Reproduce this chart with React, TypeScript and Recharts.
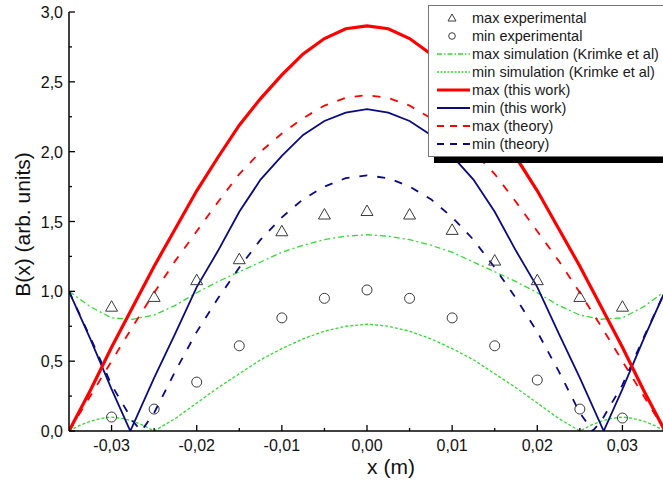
import { ComposedChart, Line, Scatter, XAxis, YAxis } from 'recharts';

// x grid (m) used by the smooth curves
const xGrid = [
  -0.035, -0.0325, -0.03, -0.0275, -0.025, -0.0225, -0.02, -0.0175, -0.015, -0.0125, -0.01, -0.0075, -0.005, -0.0025, 0,
  0.0025, 0.005, 0.0075, 0.01, 0.0125, 0.015, 0.0175, 0.02, 0.0225, 0.025, 0.0275, 0.03, 0.0325, 0.035,
];

const maxThisWork = [
  0, 0.29, 0.6, 0.89, 1.18, 1.45, 1.72, 1.96, 2.19, 2.38, 2.55, 2.7, 2.81, 2.88, 2.9,
  2.88, 2.81, 2.7, 2.55, 2.38, 2.19, 1.96, 1.72, 1.45, 1.18, 0.89, 0.6, 0.29, 0,
];

const maxTheory = [
  0, 0.25, 0.5, 0.75, 0.99, 1.22, 1.43, 1.64, 1.84, 2.0, 2.13, 2.24, 2.33, 2.385, 2.405,
  2.385, 2.33, 2.24, 2.13, 2.0, 1.84, 1.64, 1.43, 1.22, 0.99, 0.75, 0.5, 0.25, 0,
];

const maxSim = [
  1.0, 0.89, 0.81, 0.8, 0.83, 0.9, 0.99, 1.07, 1.14, 1.21, 1.28, 1.33, 1.37, 1.395, 1.405,
  1.395, 1.37, 1.33, 1.28, 1.21, 1.14, 1.07, 0.99, 0.9, 0.83, 0.8, 0.81, 0.89, 1.0,
];

const minSimX = [
  -0.035, -0.03375, -0.0325, -0.03125, -0.03, -0.02875, -0.0275, -0.02625, -0.025,
  -0.0225, -0.02, -0.0175, -0.015, -0.0125, -0.01, -0.0075, -0.005, -0.0025, 0,
  0.0025, 0.005, 0.0075, 0.01, 0.0125, 0.015, 0.0175, 0.02, 0.0225,
  0.025, 0.02625, 0.0275, 0.02875, 0.03, 0.03125, 0.0325, 0.03375, 0.035,
];
const minSim = [
  0, 0.04, 0.07, 0.09, 0.1, 0.09, 0.07, 0.04, 0,
  0.09, 0.2, 0.31, 0.41, 0.51, 0.59, 0.66, 0.715, 0.75, 0.765,
  0.75, 0.715, 0.66, 0.59, 0.51, 0.41, 0.31, 0.2, 0.09,
  0, 0.04, 0.07, 0.09, 0.1, 0.09, 0.07, 0.04, 0,
];

const minThisWorkX = [
  -0.035, -0.0325, -0.03, -0.0278, -0.025, -0.0225, -0.02, -0.0175, -0.015, -0.0125, -0.01, -0.0075, -0.005, -0.0025, 0,
  0.0025, 0.005, 0.0075, 0.01, 0.0125, 0.015, 0.0175, 0.02, 0.0225, 0.025, 0.0278, 0.03, 0.0325, 0.035,
];
const minThisWork = [
  1.0, 0.66, 0.3, 0, 0.38, 0.7, 1.03, 1.29, 1.57, 1.8, 1.97, 2.12, 2.22, 2.28, 2.305,
  2.28, 2.22, 2.12, 1.97, 1.8, 1.57, 1.29, 1.03, 0.7, 0.38, 0, 0.3, 0.66, 1.0,
];

const minTheoryX = [
  -0.035, -0.0325, -0.03, -0.0275, -0.0265, -0.025, -0.0225, -0.02, -0.0175, -0.015, -0.0125, -0.01, -0.0075, -0.005, -0.0025, 0,
  0.0025, 0.005, 0.0075, 0.01, 0.0125, 0.015, 0.0175, 0.02, 0.0225, 0.025, 0.0265, 0.0275, 0.03, 0.0325, 0.035,
];
const minTheory = [
  1.0, 0.67, 0.33, 0.07, 0, 0.13, 0.43, 0.71, 0.95, 1.17, 1.37, 1.53, 1.66, 1.75, 1.81, 1.83,
  1.81, 1.75, 1.66, 1.53, 1.37, 1.17, 0.95, 0.71, 0.43, 0.13, 0, 0.07, 0.33, 0.67, 1.0,
];

// experimental points
const expX = [-0.03, -0.025, -0.02, -0.015, -0.01, -0.005, 0, 0.005, 0.01, 0.015, 0.02, 0.025, 0.03];
const maxExp = [0.89, 0.96, 1.08, 1.23, 1.43, 1.55, 1.575, 1.55, 1.44, 1.22, 1.08, 0.96, 0.89];
const minExp = [0.1, 0.157, 0.35, 0.61, 0.81, 0.95, 1.01, 0.95, 0.81, 0.61, 0.365, 0.157, 0.093];

// axis ticks
const xMajorTicks = [-0.03, -0.02, -0.01, 0, 0.01, 0.02, 0.03];
const xMinorTicks = [-0.025, -0.015, -0.005, 0.005, 0.015, 0.025];
const yMajorTicks = [0, 0.5, 1, 1.5, 2, 2.5, 3];
const yMinorTicks = [0.25, 0.75, 1.25, 1.75, 2.25, 2.75];

const FONT = '"Liberation Sans", Arial, sans-serif';
const RED = '#ff0000';
const NAVY = '#0a0a82';
const GREEN = '#2fdc2f';
const MARK = '#3a3a3a';

const toPoints = (xs: number[], ys: number[]) => xs.map((x, i) => ({ x, y: ys[i] }));

const fmtX = (v: number) => (Math.abs(v) < 1e-9 ? 0 : v).toFixed(2).replace('.', ',');
const fmtY = (v: number) => v.toFixed(1).replace('.', ',');
const isMajor = (list: number[], v: number) => list.some((t) => Math.abs(t - v) < 1e-9);

const BottomTick = ({ x, y, payload }: any) => {
  const major = isMajor(xMajorTicks, payload.value);
  return (
    <g>
      <line x1={x} x2={x} y1={y} y2={y - (major ? 6 : 3)} stroke="#000" strokeWidth={1.3} />
      {major && (
        <text x={x} y={y + 20} textAnchor="middle" fontSize={16} fontFamily={FONT} fill="#111">
          {fmtX(payload.value)}
        </text>
      )}
    </g>
  );
};

const TopTick = ({ x, y, payload }: any) => {
  const major = isMajor(xMajorTicks, payload.value);
  return <line x1={x} x2={x} y1={y} y2={y + (major ? 6 : 3)} stroke="#000" strokeWidth={1.3} />;
};

const LeftTick = ({ x, y, payload }: any) => {
  const major = isMajor(yMajorTicks, payload.value);
  return (
    <g>
      <line x1={x} x2={x + (major ? 6 : 3)} y1={y} y2={y} stroke="#000" strokeWidth={1.3} />
      {major && (
        <text x={x - 6} y={y + 6} textAnchor="end" fontSize={16} fontFamily={FONT} fill="#111">
          {fmtY(payload.value)}
        </text>
      )}
    </g>
  );
};

const RightTick = ({ x, y, payload }: any) => {
  const major = isMajor(yMajorTicks, payload.value);
  return <line x1={x} x2={x - (major ? 6 : 3)} y1={y} y2={y} stroke="#000" strokeWidth={1.3} />;
};

const Triangle = ({ cx, cy }: any) => (
  <polygon
    points={`${cx},${cy - 6} ${cx - 6},${cy + 4.5} ${cx + 6},${cy + 4.5}`}
    fill="none"
    stroke={MARK}
    strokeWidth={1}
  />
);

const Circle = ({ cx, cy }: any) => <circle cx={cx} cy={cy} r={5} fill="none" stroke={MARK} strokeWidth={1} />;

const legendItems = [
  { label: 'max experimental', kind: 'tri' },
  { label: 'min experimental', kind: 'circ' },
  { label: 'max simulation (Krimke et al)', kind: 'line', color: GREEN, width: 1.3, dash: '5 2 1.5 2' },
  { label: 'min simulation (Krimke et al)', kind: 'line', color: GREEN, width: 1.3, dash: '2 1.5' },
  { label: 'max (this work)', kind: 'line', color: RED, width: 3.2 },
  { label: 'min (this work)', kind: 'line', color: NAVY, width: 1.8 },
  { label: 'max (theory)', kind: 'line', color: RED, width: 1.8, dash: '7 6' },
  { label: 'min (theory)', kind: 'line', color: NAVY, width: 1.8, dash: '7 6' },
];

const LegendBox = () => (
  <div
    style={{
      position: 'absolute',
      left: 428,
      top: 5,
      width: 260,
      height: 152,
      boxSizing: 'border-box',
      border: '1px solid #777',
      background: '#fff',
      boxShadow: '6px 6px 0 #000',
      paddingTop: 3,
      fontFamily: FONT,
      fontSize: 14.5,
      color: '#1a1a1a',
    }}
  >
    {legendItems.map((it) => (
      <div key={it.label} style={{ display: 'flex', alignItems: 'center', height: 18, lineHeight: '18px' }}>
        <svg width={36} height={18} style={{ marginLeft: 7, flexShrink: 0 }}>
          {it.kind === 'tri' && (
            <polygon points="16,5 12,12 20,12" fill="none" stroke={MARK} strokeWidth={1} />
          )}
          {it.kind === 'circ' && <circle cx={16} cy={9} r={3.3} fill="none" stroke={MARK} strokeWidth={1} />}
          {it.kind === 'line' && (
            <line x1={1} x2={34} y1={9} y2={9} stroke={it.color} strokeWidth={it.width} strokeDasharray={it.dash} />
          )}
        </svg>
        <span style={{ whiteSpace: 'nowrap' }}>{it.label}</span>
      </div>
    ))}
  </div>
);

const YTitle = ({ viewBox }: any) => {
  const cx = viewBox.x + 22;
  const cy = viewBox.y + viewBox.height / 2 + 3;
  return (
    <text
      x={cx}
      y={cy}
      transform={`rotate(-90 ${cx} ${cy})`}
      textAnchor="middle"
      dominantBaseline="central"
      fontSize={21}
      fontFamily={FONT}
      fill="#111"
    >
      B(x) (arb. units)
    </text>
  );
};

const XTitle = ({ viewBox }: any) => (
  <text
    x={viewBox.x + viewBox.width / 2 + 24}
    y={viewBox.y + 43}
    textAnchor="middle"
    fontSize={21}
    fontFamily={FONT}
    fill="#111"
  >
    x (m)
  </text>
);

export default function App() {
  const lineProps = { type: 'linear' as const, dataKey: 'y', dot: false, activeDot: false, isAnimationActive: false };
  return (
    <div
      style={{
        position: 'absolute',
        left: 0,
        top: 0,
        width: 663,
        height: 484,
        overflow: 'hidden',
        background: '#fff',
        fontFamily: FONT,
      }}
    >
      <ComposedChart width={680} height={484} margin={{ top: 12, right: 15, left: 0, bottom: 0 }}>
        <XAxis
          dataKey="x"
          type="number"
          domain={[-0.035, 0.035]}
          allowDataOverflow
          ticks={[...xMajorTicks, ...xMinorTicks]}
          interval={0}
          tick={<BottomTick />}
          tickLine={false}
          tickSize={0}
          tickMargin={0}
          height={53}
          axisLine={{ stroke: '#000', strokeWidth: 1.5 }}
          label={<XTitle />}
        />
        <XAxis
          xAxisId="top"
          orientation="top"
          dataKey="x"
          type="number"
          domain={[-0.035, 0.035]}
          allowDataOverflow
          ticks={[...xMajorTicks, ...xMinorTicks]}
          interval={0}
          tick={<TopTick />}
          tickLine={false}
          tickSize={0}
          tickMargin={0}
          height={0}
          axisLine={{ stroke: '#000', strokeWidth: 1.5 }}
        />
        <YAxis
          type="number"
          domain={[0, 3]}
          allowDataOverflow
          ticks={[...yMajorTicks, ...yMinorTicks]}
          interval={0}
          tick={<LeftTick />}
          tickLine={false}
          tickSize={0}
          tickMargin={0}
          width={69}
          axisLine={{ stroke: '#000', strokeWidth: 1.5 }}
          label={<YTitle />}
        />
        <YAxis
          yAxisId="right"
          orientation="right"
          type="number"
          domain={[0, 3]}
          allowDataOverflow
          ticks={[...yMajorTicks, ...yMinorTicks]}
          interval={0}
          tick={<RightTick />}
          tickLine={false}
          tickSize={0}
          tickMargin={0}
          width={0}
          axisLine={{ stroke: '#000', strokeWidth: 1.5 }}
        />

        <Line {...lineProps} data={toPoints(xGrid, maxSim)} stroke={GREEN} strokeWidth={1.3} strokeDasharray="6 3 2 3" />
        <Line {...lineProps} data={toPoints(minSimX, minSim)} stroke={GREEN} strokeWidth={1.3} strokeDasharray="3 2" />
        <Line {...lineProps} data={toPoints(xGrid, maxTheory)} stroke={RED} strokeWidth={1.8} strokeDasharray="8 10" />
        <Line {...lineProps} data={toPoints(minTheoryX, minTheory)} stroke={NAVY} strokeWidth={1.8} strokeDasharray="8 10" />
        <Line {...lineProps} data={toPoints(minThisWorkX, minThisWork)} stroke={NAVY} strokeWidth={1.8} />
        <Line {...lineProps} data={toPoints(xGrid, maxThisWork)} stroke={RED} strokeWidth={3.2} />

        <Scatter data={toPoints(expX, maxExp)} dataKey="y" shape={<Triangle />} isAnimationActive={false} />
        <Scatter data={toPoints(expX, minExp)} dataKey="y" shape={<Circle />} isAnimationActive={false} />
      </ComposedChart>
      <LegendBox />
    </div>
  );
}
